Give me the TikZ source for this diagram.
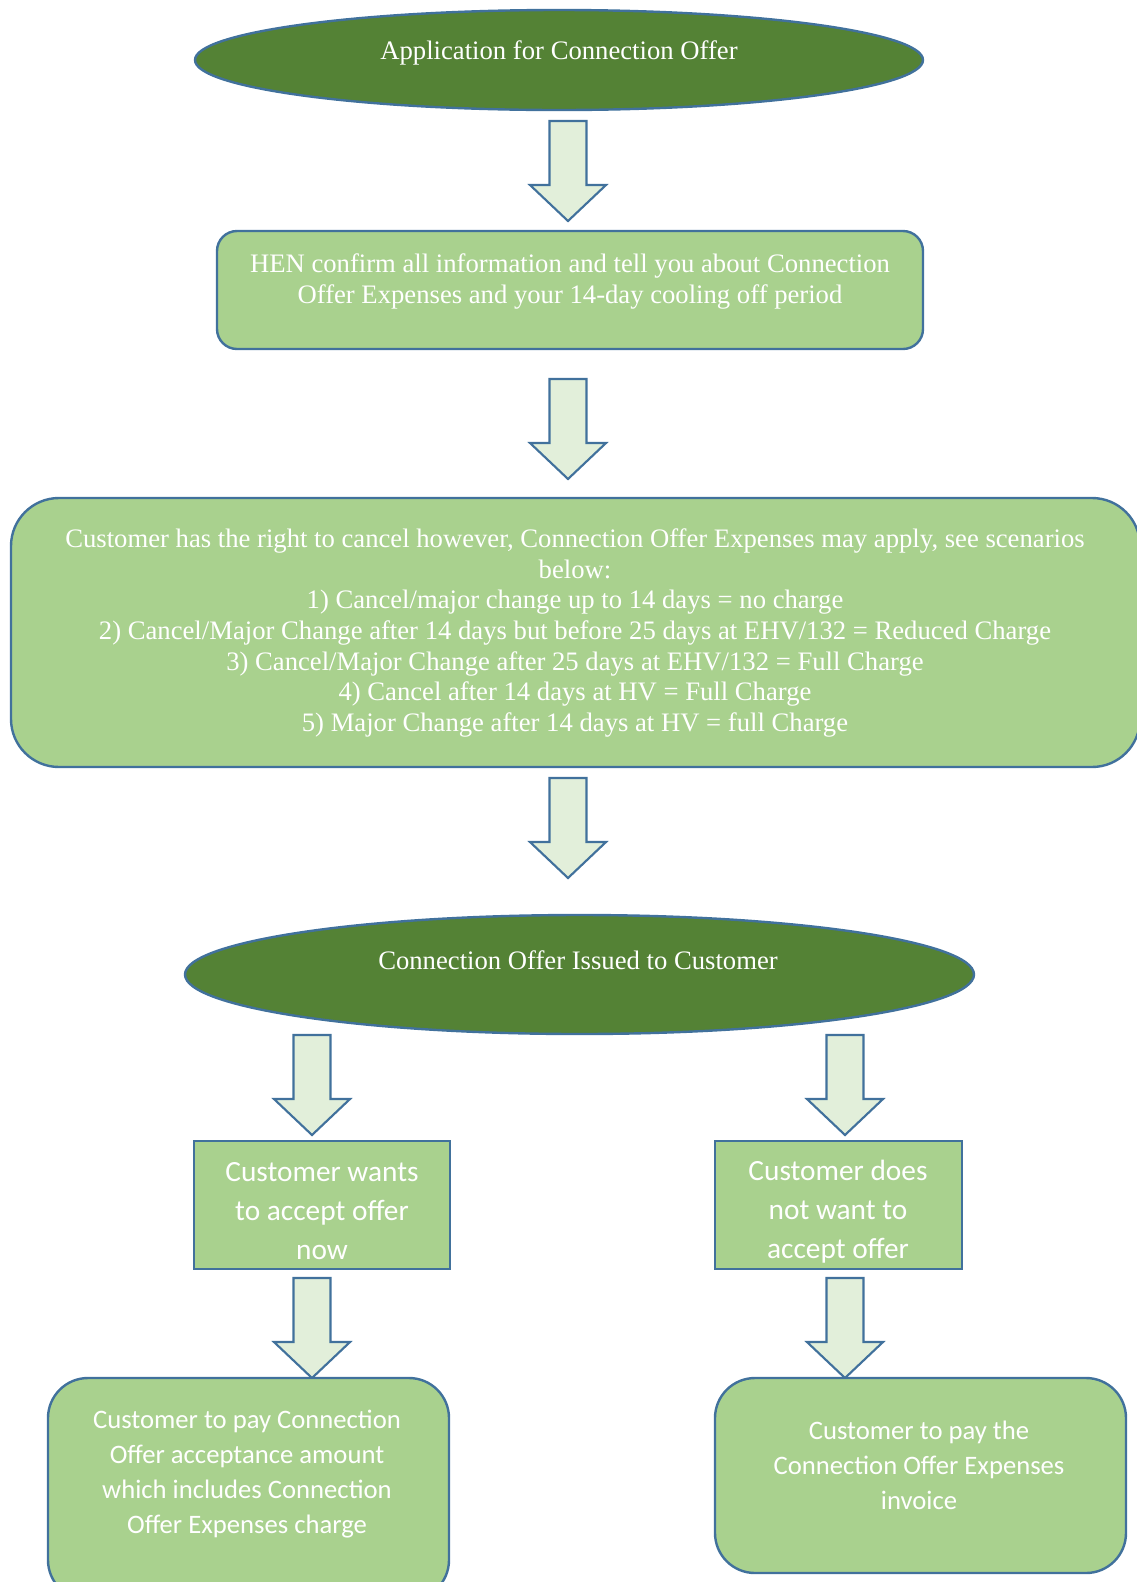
\documentclass[tikz,border=0pt]{standalone}
\usepackage{fontspec}
\setmainfont{Liberation Serif}
\newfontfamily\calibri{Carlito}
\usetikzlibrary{shapes.geometric}
\definecolor{dgreen}{HTML}{548235}
\definecolor{lgreen}{HTML}{A9D18E}
\definecolor{pale}{HTML}{E2EFDA}
\definecolor{edgeblue}{HTML}{41719C}
\begin{document}
\begin{tikzpicture}[x=0.75pt,y=-0.75pt,
  shapebox/.style={draw=edgeblue,line width=1.8pt,fill=lgreen,inner sep=0pt},
  oval/.style={ellipse,draw=edgeblue,line width=1.8pt,fill=dgreen,inner sep=0pt},
  sz/.style 2 args={minimum width=#1*0.75pt,minimum height=#2*0.75pt},
  txt/.style={text=white,align=center,inner sep=0pt},
  serif/.style={font=\fontsize{20}{22.9}\selectfont},
  calA/.style={font=\calibri\fontsize{22}{29.3}\selectfont},
  calB/.style={font=\calibri\fontsize{20}{26.3}\selectfont},
  arrowshape/.style={draw=edgeblue,line width=1.6pt,fill=pale,line join=miter},
  dnarrow/.pic={\draw[arrowshape] (-18.5,0) -- (18.5,0) -- (18.5,64) -- (38,64) -- (0,100) -- (-38,64) -- (-18.5,64) -- cycle;}
]
\useasboundingbox (0,0) rectangle (1137,1582);
\clip (0,0) rectangle (1137,1582);

% top ellipse
\node[oval,sz={728}{100}] (app) at (559,60) {};
\node[txt,serif] (appT) at (559,53) {Application for Connection Offer};

\pic (a1) at (568,121) {dnarrow};

% HEN box
\node[shapebox,sz={706}{118},rounded corners=15pt] (hen) at (570,290) {};
\node[txt,serif] (henT) at (570,281.5) {HEN confirm all information and tell you about Connection\\Offer Expenses and your 14-day cooling off period};

\pic (a2) at (568,379) {dnarrow};

% cancel box
\node[shapebox,sz={1129}{269},rounded corners=36pt] (cancel) at (575.5,632.5) {};
\node[txt,serif] (cancelT) at (575,633) {Customer has the right to cancel however, Connection Offer Expenses may apply, see scenarios\\below:\\1) Cancel/major change up to 14 days = no charge\\2) Cancel/Major Change after 14 days but before 25 days at EHV/132 = Reduced Charge\\3) Cancel/Major Change after 25 days at EHV/132 = Full Charge\\4) Cancel after 14 days at HV = Full Charge\\5) Major Change after 14 days at HV = full Charge};

\pic (a3) at (568,778) {dnarrow};

% issued ellipse
\node[oval,sz={789}{119}] (issued) at (579.5,974.5) {};
\node[txt,serif] (issuedT) at (578,960) {Connection Offer Issued to Customer};

\pic (a4l) at (312,1035) {dnarrow};
\pic (a4r) at (845,1035) {dnarrow};

% decision boxes
\node[shapebox,sz={256}{128}] (accept) at (322,1205) {};
\node[txt,calA] (acceptT) at (322,1211) {Customer wants\\to accept offer\\now};
\node[shapebox,sz={247}{128}] (decline) at (838.5,1205) {};
\node[txt,calA] (declineT) at (838,1212) {Customer does\\not want to\\accept offer};

\pic (a5l) at (312,1278) {dnarrow};
\pic (a5r) at (845,1278) {dnarrow};

% payment boxes
\node[shapebox,sz={401}{222},rounded corners=30pt] (payA) at (248.5,1489) {};
\node[txt,calB] (payAT) at (247,1474) {Customer to pay Connection\\Offer acceptance amount\\which includes Connection\\Offer Expenses charge};
\node[shapebox,sz={411}{195},rounded corners=30pt] (payB) at (920.5,1475.5) {};
\node[txt,calB] (payBT) at (919,1465) {Customer to pay the\\Connection Offer Expenses\\invoice};
\end{tikzpicture}
\end{document}
